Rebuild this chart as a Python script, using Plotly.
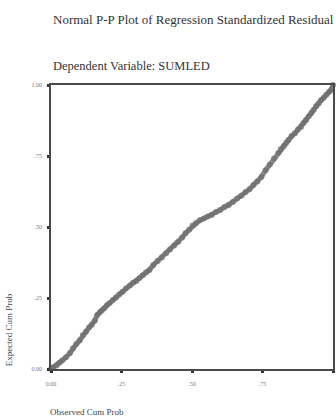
import plotly.graph_objects as go

# Normal P-P plot of regression standardized residuals (dependent: SUMLED)
observed_cum_prob = [
    0.000, 0.008, 0.020, 0.030, 0.040, 0.053, 0.067, 0.078, 0.090, 0.102,
    0.113, 0.124, 0.135, 0.145, 0.155, 0.164, 0.173, 0.181, 0.190, 0.199,
    0.208, 0.219, 0.230, 0.242, 0.254, 0.267, 0.280, 0.291, 0.303, 0.314,
    0.325, 0.337, 0.349, 0.363, 0.378, 0.393, 0.408, 0.422, 0.437, 0.451,
    0.465, 0.477, 0.490, 0.502, 0.514, 0.528, 0.542, 0.556, 0.570, 0.585,
    0.600, 0.615, 0.630, 0.645, 0.660, 0.675, 0.690, 0.704, 0.718, 0.732,
    0.746, 0.761, 0.776, 0.791, 0.806, 0.815, 0.825, 0.834, 0.842, 0.853,
    0.865, 0.876, 0.887, 0.896, 0.905, 0.914, 0.923, 0.931, 0.940, 0.949,
    0.958, 0.967, 0.976, 0.985, 0.993, 1.000,
]
expected_cum_prob = [
    0.000, 0.006, 0.012, 0.022, 0.030, 0.041, 0.056, 0.073, 0.088, 0.101,
    0.120, 0.131, 0.146, 0.156, 0.170, 0.190, 0.200, 0.207, 0.215, 0.225,
    0.232, 0.243, 0.252, 0.263, 0.272, 0.284, 0.294, 0.304, 0.310, 0.320,
    0.330, 0.341, 0.349, 0.366, 0.380, 0.393, 0.408, 0.421, 0.435, 0.447,
    0.463, 0.478, 0.490, 0.505, 0.514, 0.524, 0.530, 0.537, 0.542, 0.553,
    0.560, 0.570, 0.577, 0.588, 0.600, 0.610, 0.623, 0.633, 0.648, 0.660,
    0.676, 0.700, 0.720, 0.741, 0.761, 0.775, 0.785, 0.797, 0.806, 0.820,
    0.830, 0.843, 0.852, 0.866, 0.877, 0.890, 0.901, 0.912, 0.925, 0.935,
    0.947, 0.955, 0.966, 0.975, 0.982, 1.000,
]

tick_values = [0, 0.25, 0.5, 0.75, 1.0]
tick_labels = ["0.00", ".25", ".50", ".75", "1.00"]

title_line1 = "Normal P-P Plot of Regression Standardized Residual"
title_line2 = "Dependent Variable: SUMLED"
x_title = "Observed Cum Prob"
y_title = "Expected Cum Prob"

serif = "Liberation Serif, Times New Roman, serif"

fig = go.Figure()

# thick grey band of residual points
fig.add_trace(go.Scatter(
    x=observed_cum_prob,
    y=expected_cum_prob,
    mode="lines",
    line=dict(color="#8a8a8a", width=5),
    cliponaxis=False,
    showlegend=False,
    hoverinfo="skip",
))
fig.add_trace(go.Scatter(
    x=observed_cum_prob,
    y=expected_cum_prob,
    mode="markers",
    marker=dict(color="#6c6c6c", size=6, opacity=0.7),
    cliponaxis=False,
    showlegend=False,
    hoverinfo="skip",
))

axis_common = dict(
    range=[0, 1],
    tickvals=tick_values,
    ticktext=tick_labels,
    showgrid=False,
    zeroline=False,
    showline=True,
    linecolor="#4a4a4a",
    linewidth=1.5,
    mirror=True,
    ticks="outside",
    ticklen=2,
    tickwidth=3,
    tickcolor="#333333",
    tickfont=dict(family=serif, size=6, color="#777777"),
)

fig.update_layout(
    width=336,
    height=418,
    margin=dict(l=51, r=1, t=85, b=49),
    paper_bgcolor="white",
    plot_bgcolor="white",
    xaxis=dict(**axis_common, ticklabelstandoff=6),
    yaxis=dict(**axis_common, ticklabelstandoff=4),
    annotations=[
        dict(text=title_line1, xref="paper", yref="paper", x=0.0, y=1.229,
             xanchor="left", yanchor="middle", showarrow=False,
             font=dict(family=serif, size=13, color="#333333")),
        dict(text=title_line2, xref="paper", yref="paper", x=0.0, y=1.067,
             xanchor="left", yanchor="middle", showarrow=False,
             font=dict(family=serif, size=12.5, color="#333333")),
        dict(text=x_title, xref="paper", yref="paper", x=-0.01, y=-0.151,
             xanchor="left", yanchor="middle", showarrow=False,
             font=dict(family=serif, size=9, color="#444444")),
        dict(text=y_title, xref="paper", yref="paper", x=-0.148, y=0.137,
             xanchor="center", yanchor="middle", textangle=-90, showarrow=False,
             font=dict(family=serif, size=9, color="#444444")),
    ],
)

fig.write_html("out.html")
